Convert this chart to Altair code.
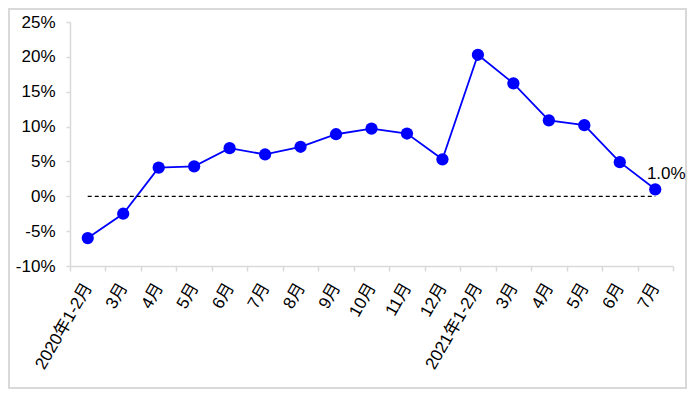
import altair as alt
import pandas as pd

categories = ["2020年1-2月", "3月", "4月", "5月", "6月", "7月", "8月", "9月", "10月", "11月", "12月",
              "2021年1-2月", "3月 ", "4月 ", "5月 ", "6月 ", "7月 "]
values = [-6.0, -2.5, 4.1, 4.3, 6.9, 6.0, 7.1, 8.9, 9.7, 9.0, 5.3,
          20.3, 16.2, 10.9, 10.2, 4.9, 1.0]
y_ticks = [-10, -5, 0, 5, 10, 15, 20, 25]

df = pd.DataFrame({"cat": categories, "val": values})
FONT = "Liberation Sans, Arial, Noto Sans CJK SC"

xscale = alt.Scale(type="band", domain=categories, paddingInner=0, paddingOuter=0)
xaxis = alt.Axis(title=None, labelAngle=-60, labelAlign="right", labelBaseline="middle",
                 tickBand="extent", labelFontSize=17, labelFont=FONT, labelColor="#000000",
                 domainColor="#d9d9d9", tickColor="#d9d9d9", tickSize=5, labelPadding=13,
                 domainWidth=1.5, tickWidth=1.5, labelOverlap=False)
yscale = alt.Scale(domain=[-10, 25], nice=False, zero=False)
yaxis = alt.Axis(title=None, values=y_ticks, labelExpr="datum.value + '%'",
                 labelFontSize=17, labelFont=FONT, labelColor="#000000",
                 domainColor="#d9d9d9", tickColor="#d9d9d9", tickSize=4,
                 domainWidth=1.5, tickWidth=1.5, grid=False, labelPadding=11,
                 labelOverlap=False)

xenc = alt.X("cat:N", bandPosition=0.5, scale=xscale, axis=xaxis)
yenc = alt.Y("val:Q", scale=yscale, axis=yaxis)

base = alt.Chart(df)

zero_df = pd.DataFrame({"cat": [categories[0]], "b": [categories[-1]], "val": [0]})
zero_rule = alt.Chart(zero_df).mark_rule(color="#000000", strokeDash=[4, 3], strokeWidth=1.3).encode(
    x=xenc, x2="b:N", y=yenc,
)

line = base.mark_line(color="#0000FF", strokeWidth=1.8).encode(x=xenc, y=yenc)
points = base.mark_circle(color="#0000FF", opacity=1, size=150).encode(x=xenc, y=yenc)

last_df = df.tail(1).assign(label="1.0%")
label = alt.Chart(last_df).mark_text(fontSize=17, font=FONT, color="#000000", dx=11, dy=-15).encode(
    x=xenc, y=yenc, text="label:N")

border = alt.Chart(zero_df).mark_rect(fill=None, stroke="#d9d9d9", strokeWidth=2, clip=False).encode(
    x=alt.value(-61), x2=alt.value(616), y=alt.value(-13), y2=alt.value(366))

chart = alt.layer(border, line, zero_rule, points, label).properties(
    width=603, height=244,
    padding={"left": 62, "top": 14, "right": 14, "bottom": 123},
    autosize=alt.AutoSizeParams(type="none"),
).configure(background="white").configure_view(stroke=None)

chart.save("out.html", embed_options={"renderer": "svg", "actions": False})
